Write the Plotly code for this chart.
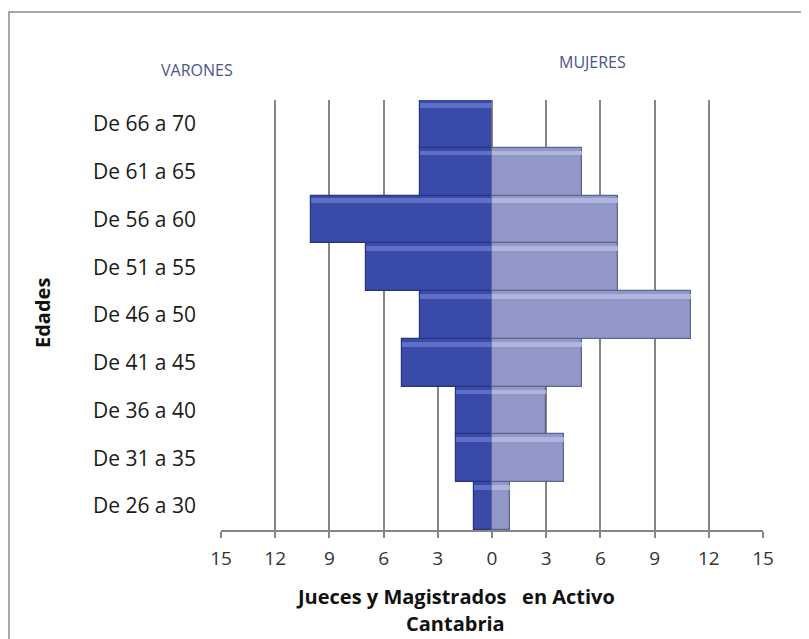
import plotly.graph_objects as go

categories = ["De 26 a 30", "De 31 a 35", "De 36 a 40", "De 41 a 45", "De 46 a 50",
              "De 51 a 55", "De 56 a 60", "De 61 a 65", "De 66 a 70"]
varones = [1, 2, 2, 5, 4, 7, 10, 4, 4]
mujeres = [1, 4, 3, 5, 11, 7, 7, 5, 0]
tick_values = [-15, -12, -9, -6, -3, 0, 3, 6, 9, 12, 15]
tick_labels = ["15", "12", "9", "6", "3", "0", "3", "6", "9", "12", "15"]

# page offset (body margin) compensation
OFF = 8
W, H = 809 - OFF, 639 - OFF
L, R, T, B = 221 - OFF, 46, 100 - OFF, 109
PW, PH = W - L - R, H - T - B

def px(xp):
    return (xp - OFF - L) / PW

def py(yp):
    return (H - B - (yp - OFF)) / PH

FONT = "Open Sans"

fig = go.Figure()
men_neg = [-v for v in varones]

# main bars
fig.add_trace(go.Bar(y=categories, x=men_neg, orientation="h", width=1.0,
                     marker=dict(color="#3a4aa8", line=dict(color="#27337a", width=1.2)),
                     name="Varones", showlegend=False))
fig.add_trace(go.Bar(y=categories, x=mujeres, orientation="h", width=1.0,
                     marker=dict(color="#9198c8", line=dict(color="#5c6390", width=1.2)),
                     name="Mujeres", showlegend=False))
# top highlight stripes (bevel look)
fig.add_trace(go.Bar(y=categories, x=men_neg, orientation="h", width=0.1, offset=0.34,
                     marker=dict(color="rgba(110,128,210,0.7)", line=dict(width=0)),
                     hoverinfo="skip", showlegend=False))
fig.add_trace(go.Bar(y=categories, x=mujeres, orientation="h", width=0.1, offset=0.34,
                     marker=dict(color="rgba(185,192,230,0.75)", line=dict(width=0)),
                     hoverinfo="skip", showlegend=False))

def ann(text, x, y, size, color, angle=0):
    return dict(text=text, x=px(x), y=py(y), xref="paper", yref="paper",
                xanchor="center", yanchor="middle", showarrow=False, textangle=angle,
                font=dict(size=size, color=color, family=FONT))

fig.update_layout(
    width=W, height=H,
    margin=dict(l=L, r=R, t=T, b=B, autoexpand=False),
    barmode="overlay",
    bargap=0,
    plot_bgcolor="white", paper_bgcolor="white",
    font=dict(family=FONT, color="#222222"),
    xaxis=dict(range=[-15, 15], tickvals=tick_values, ticktext=tick_labels,
               showgrid=True, gridcolor="#858585", gridwidth=1.5, zeroline=False,
               showline=True, linecolor="#858585", linewidth=1.5,
               ticks="outside", ticklen=6, tickcolor="#858585", tickwidth=1.5,
               ticklabelstandoff=4,
               tickfont=dict(size=19, color="#333333", family=FONT), fixedrange=True),
    yaxis=dict(categoryorder="array", categoryarray=categories, showgrid=False,
               zeroline=False, showline=False, ticks="",
               tickfont=dict(size=21, color="#1a1a1a", family=FONT),
               ticklabelstandoff=24, fixedrange=True),
    annotations=[
        ann("VARONES", 197, 70, 16, "#4a5590"),
        ann("MUJERES", 592, 62, 16, "#4a5590"),
        ann("<b>Edades</b>", 42, 313, 20, "#111111", -90),
        ann("<b>Jueces y Magistrados   en Activo</b>", 455, 596, 20, "#111111"),
        ann("<b>Cantabria</b>", 455, 623, 20, "#111111"),
    ],
    shapes=[
        dict(type="rect", xref="paper", yref="paper", x0=px(9), x1=px(840),
             y0=py(660), y1=py(12), line=dict(color="#8a8a8a", width=1.5),
             fillcolor="rgba(0,0,0,0)", layer="below"),
    ],
)

fig.write_html("out.html")
